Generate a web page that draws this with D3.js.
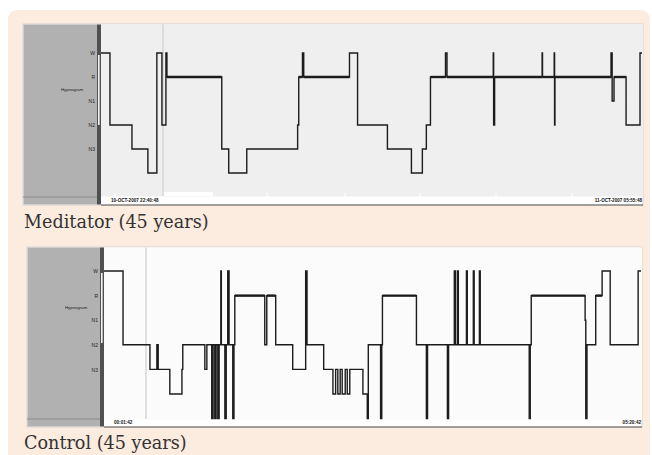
<!DOCTYPE html>
<html>
<head>
<meta charset="utf-8">
<script src="https://cdn.jsdelivr.net/npm/d3@7"></script>
<style>
  html, body { margin: 0; padding: 0; background: #ffffff; }
  svg { display: block; }
</style>
</head>
<body>
<svg id="fig" width="652" height="455"></svg>
<script>
// Sleep stage codes: 0 W, 1 R, 2 N1, 3 N2, 4 N3, 5 N4 (deepest), 6 movement
const stageLabels = ["W", "R", "N1", "N2", "N3"];

// Meditator hypnogram: minute at which each stage begins
const meditatorMinutes = [0, 7.2, 24.9, 37.7, 44.9, 49.0, 52.2, 53.0, 97.1, 102.7,
  117.2, 158.1, 159.0, 162.0, 163.0, 199.8, 206.3, 230.3, 249.6, 258.4,
  261.6, 264.9, 277.0, 278.2, 315.4, 315.7, 316.5, 354.7, 355.0, 364.4,
  364.7, 365.0, 410.1, 411.0, 412.5, 422.2, 433.4];
const meditatorStages = [0, 3, 4, 5, 0, 3, 0, 1, 4, 5,
  4, 3, 1, 0, 1, 0, 3, 4, 5, 4,
  3, 1, 0, 1, 0, 3, 1, 0, 1, 0,
  3, 1, 0, 2, 1, 3, 0];
const meditatorDuration = 435;
const meditatorTimeLabels = ["10-OCT-2007 22:40:48", "11-OCT-2007 05:55:48"];

// Control hypnogram
const controlMinutes = [0, 11.3, 27.3, 31.4, 32.2, 39.1, 46.3, 46.8, 59.9, 61.1,
  64.0, 64.8, 65.8, 66.6, 67.6, 68.4, 69.4, 69.7, 71.8, 72.6,
  73.5, 74.3, 76.5, 77.2, 77.7, 95.5, 96.7, 102.0, 112.1, 119.8,
  120.6, 130.5, 136.0, 137.6, 138.9, 140.3, 141.5, 143.3, 144.5, 146.0,
  153.8, 156.4, 157.0, 164.3, 165.0, 165.4, 185.6, 191.5, 192.2, 204.0,
  204.7, 208.1, 208.7, 209.9, 210.5, 215.3, 215.8, 219.4, 219.9, 223.0,
  223.5, 252.6, 253.2, 253.8, 285.8, 286.2, 286.9, 292.1, 295.9, 300.7,
  317.3];
const controlStages = [0, 3, 4, 3, 4, 5, 4, 3, 4, 3,
  6, 3, 6, 3, 6, 3, 0, 3, 6, 3,
  0, 3, 6, 3, 1, 3, 1, 3, 4, 0,
  3, 4, 5, 4, 5, 4, 5, 4, 5, 4,
  5, 6, 3, 6, 3, 1, 3, 6, 3, 6,
  3, 0, 3, 0, 3, 0, 3, 0, 3, 0,
  3, 6, 3, 1, 2, 6, 3, 1, 0, 3,
  0];
const controlDuration = 319;
const controlTimeLabels = ["00:01:42", "05:20:42"];

const captions = ["Meditator (45 years)", "Control (45 years)"];

const svg = d3.select("#fig");

// Peach figure panel with rounded corners
svg.append("rect")
  .attr("x", 8).attr("y", 10).attr("width", 642).attr("height", 460)
  .attr("rx", 9).attr("fill", "#fcebdf");

const panels = [
  {
    minutes: meditatorMinutes, stages: meditatorStages, duration: meditatorDuration,
    timeLabels: meditatorTimeLabels, caption: captions[0],
    box: { x0: 23, x1: 643, y0: 24, y1: 205 }, sideRight: 97, plotX0: 101,
    yTop: 53, step: 24, plotBottom: 196, cursorX: 163, plotFill: "#efefef",
    slider: [55, 125], captionY: 228, ticks: [115, 191, 267, 345, 420, 496, 572],
    whiteBlock: [163, 213]
  },
  {
    minutes: controlMinutes, stages: controlStages, duration: controlDuration,
    timeLabels: controlTimeLabels, caption: captions[1],
    box: { x0: 27, x1: 642, y0: 247, y1: 427 }, sideRight: 100, plotX0: 104,
    yTop: 271, step: 24.6, plotBottom: 419, cursorX: 146, plotFill: "#fbfbfb",
    slider: [273, 343], captionY: 449, ticks: [], whiteBlock: null
  }
];

panels.forEach(p => {
  const g = svg.append("g");
  const b = p.box;

  // frame and plot background
  g.append("rect").attr("x", b.x0).attr("y", b.y0)
    .attr("width", b.x1 - b.x0).attr("height", b.y1 - b.y0)
    .attr("fill", "#ffffff").attr("stroke", "#cfcfcf").attr("stroke-width", 0.8);
  g.append("rect").attr("x", p.plotX0).attr("y", b.y0 + 0.5)
    .attr("width", b.x1 - p.plotX0).attr("height", p.plotBottom - b.y0)
    .attr("fill", p.plotFill);
  if (p.whiteBlock) {
    g.append("rect").attr("x", p.whiteBlock[0]).attr("y", p.plotBottom - 4)
      .attr("width", p.whiteBlock[1] - p.whiteBlock[0]).attr("height", 4)
      .attr("fill", "#ffffff");
  }

  // grey side panel, its lower divider and the dark scroll bar
  g.append("rect").attr("x", b.x0 + 0.5).attr("y", b.y0 + 0.5)
    .attr("width", p.sideRight - b.x0).attr("height", b.y1 - b.y0 - 1)
    .attr("fill", "#b1b1b1");
  g.append("line").attr("x1", b.x0).attr("x2", p.sideRight)
    .attr("y1", b.y1 - 8).attr("y2", b.y1 - 8)
    .attr("stroke", "#8a8a8a").attr("stroke-width", 1);
  g.append("rect").attr("x", p.sideRight).attr("y", b.y0 + 0.5)
    .attr("width", p.plotX0 - p.sideRight).attr("height", b.y1 - b.y0 - 1)
    .attr("fill", "#505050");
  g.append("rect").attr("x", p.sideRight + 1).attr("y", p.slider[0])
    .attr("width", 1.6).attr("height", p.slider[1] - p.slider[0])
    .attr("fill", "#f4f4f4");

  // bottom rule
  g.append("line").attr("x1", p.plotX0).attr("x2", b.x1)
    .attr("y1", b.y1).attr("y2", b.y1)
    .attr("stroke", "#555555").attr("stroke-width", 1.2);

  // cursor line
  g.append("line").attr("x1", p.cursorX).attr("x2", p.cursorX)
    .attr("y1", b.y0 + 0.5).attr("y2", p.plotBottom)
    .attr("stroke", "#cdcdcd").attr("stroke-width", 1.2);

  // time ticks along the bottom strip
  g.selectAll("line.tk").data(p.ticks).join("line").attr("class", "tk")
    .attr("x1", d => d).attr("x2", d => d)
    .attr("y1", p.plotBottom - 3).attr("y2", p.plotBottom + 1)
    .attr("stroke", "#ffffff").attr("stroke-width", 1);

  const x = d3.scaleLinear().domain([0, p.duration]).range([p.plotX0, b.x1 - 1]);
  const y = d3.scaleLinear().domain([0, 5]).range([p.yTop, p.yTop + 5 * p.step]);

  // stage axis
  const axis = d3.axisLeft(y).tickValues([0, 1, 2, 3, 4])
    .tickFormat(i => stageLabels[i]).tickSize(0).tickPadding(1);
  const ax = g.append("g").attr("transform", `translate(${p.sideRight - 1},0)`).call(axis);
  ax.select(".domain").remove();
  ax.selectAll("text").attr("font-family", "Liberation Sans, Arial, sans-serif")
    .attr("font-size", 5).attr("fill", "#222");

  g.append("text").attr("x", b.x0 + 38).attr("y", (y(1) + y(2)) / 2 + 1.5)
    .attr("font-family", "Liberation Sans, Arial, sans-serif")
    .attr("font-size", 4.3).attr("fill", "#222").text("Hypnogram");

  // hypnogram trace
  const pts = p.minutes.map((m, i) => [m, p.stages[i]]);
  pts.push([p.duration, p.stages[p.stages.length - 1]]);
  const line = d3.line().x(d => x(d[0])).y(d => y(d[1])).curve(d3.curveStepAfter);
  g.append("path").datum(pts).attr("d", line)
    .attr("fill", "none").attr("stroke", "#1c1c1c").attr("stroke-width", 1.4);

  // REM periods drawn bold
  const rem = p.minutes.map((m, i) => ({ s: m, e: pts[i + 1][0], st: p.stages[i] }))
    .filter(d => d.st === 1);
  g.selectAll("line.rem").data(rem).join("line").attr("class", "rem")
    .attr("x1", d => x(d.s)).attr("x2", d => x(d.e))
    .attr("y1", y(1)).attr("y2", y(1))
    .attr("stroke", "#1c1c1c").attr("stroke-width", 2.4);

  // recording start / end stamps
  g.append("text").attr("x", p.plotX0 + 10).attr("y", b.y1 - 3)
    .attr("font-family", "Liberation Sans, Arial, sans-serif").attr("font-weight", "bold")
    .attr("font-size", 4.6).attr("fill", "#111").text(p.timeLabels[0]);
  g.append("text").attr("x", b.x1 - 1).attr("y", b.y1 - 3).attr("text-anchor", "end")
    .attr("font-family", "Liberation Sans, Arial, sans-serif").attr("font-weight", "bold")
    .attr("font-size", 4.6).attr("fill", "#111").text(p.timeLabels[1]);

  // caption
  svg.append("text").attr("x", 24).attr("y", p.captionY)
    .attr("font-family", "DejaVu Serif, serif").attr("font-size", 17.6)
    .attr("fill", "#333").text(p.caption);
});
</script>
</body>
</html>
